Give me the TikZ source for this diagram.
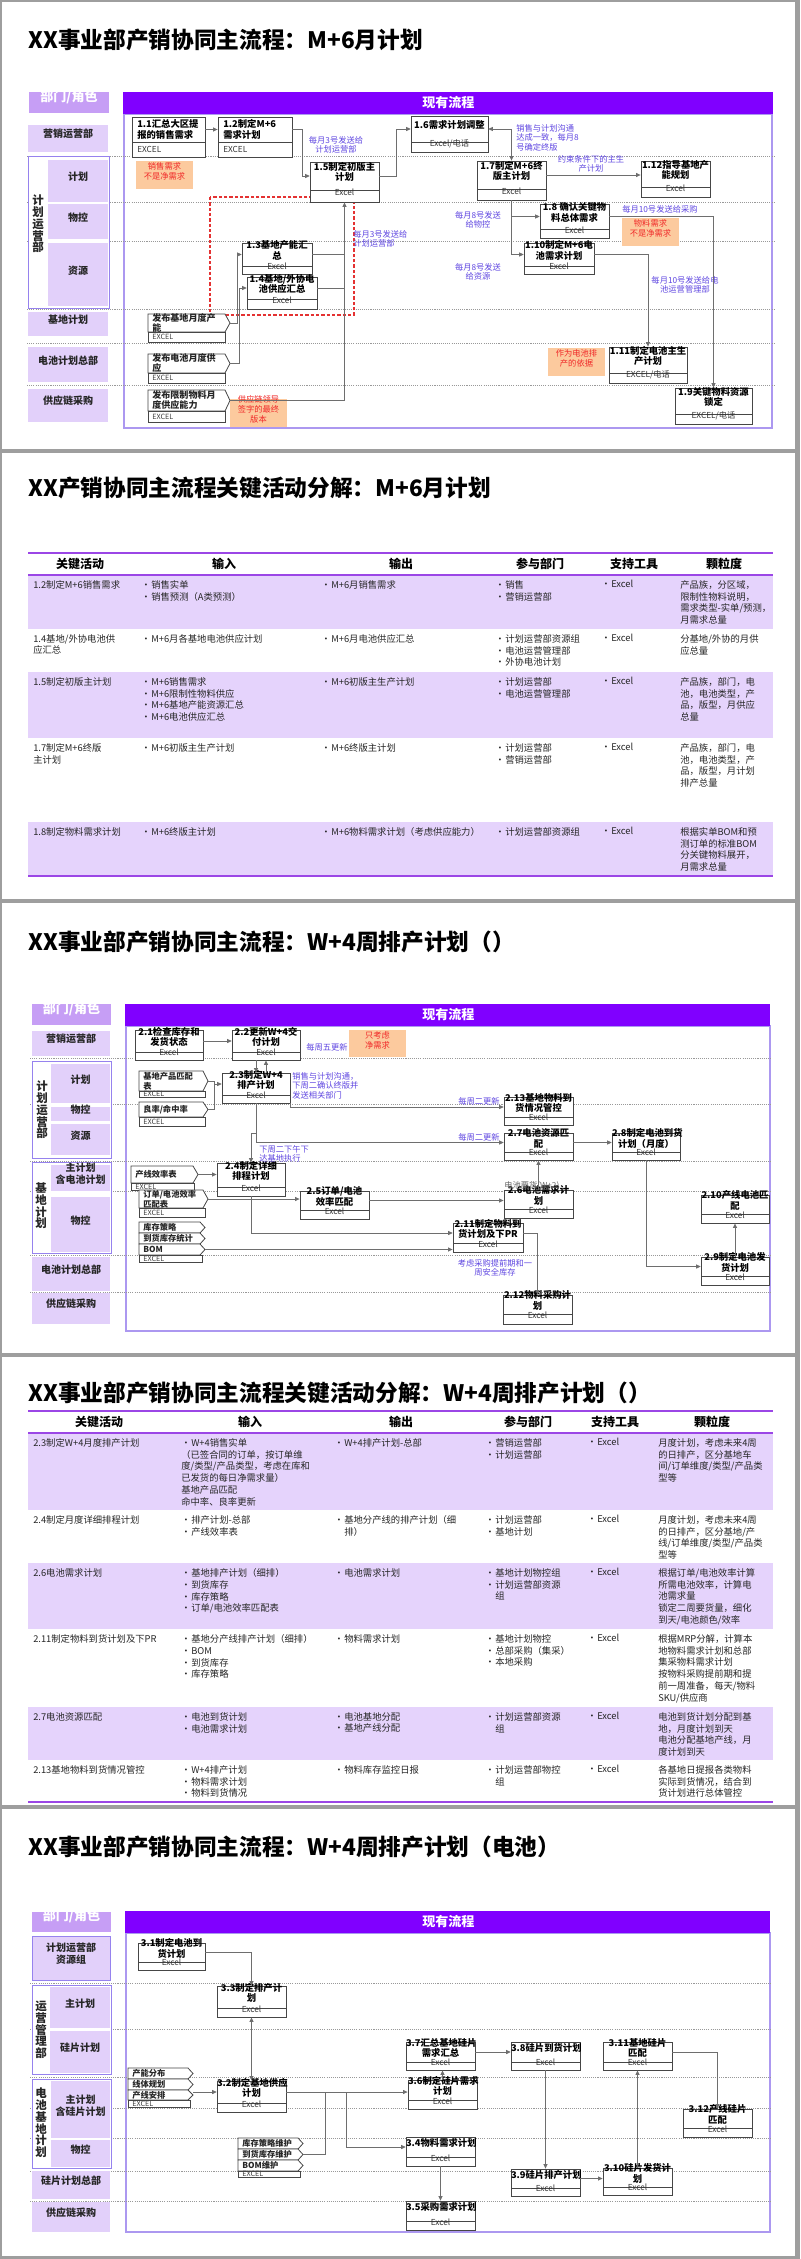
\documentclass[tikz,border=0pt]{standalone}
\usepackage{fontspec}
\setmainfont{Noto Sans CJK SC}
\usetikzlibrary{arrows.meta,fit,calc}

\definecolor{framegray}{RGB}{158,158,158}
\definecolor{purplebar}{RGB}{128,0,255}
\definecolor{hdrlilac}{RGB}{198,158,245}
\definecolor{lanefill}{RGB}{226,208,250}
\definecolor{grpblue}{RGB}{150,130,238}
\definecolor{areaborder}{RGB}{172,152,240}
\definecolor{rowfill}{RGB}{229,211,252}
\definecolor{tableline}{RGB}{155,70,230}
\definecolor{labblue}{RGB}{95,70,225}
\definecolor{noteorange}{RGB}{252,202,158}
\definecolor{notered}{RGB}{240,40,40}
\definecolor{dashred}{RGB}{228,50,50}
\definecolor{boxline}{RGB}{70,70,70}
\definecolor{connline}{RGB}{110,110,110}

\tikzset{
  titlestyle/.style={font=\fontsize{17}{20}\selectfont\bfseries, inner sep=0pt, text=black},
  hdrbox/.style={fill=hdrlilac, inner sep=0pt, text=white, font=\fontsize{9.8}{11}\selectfont\bfseries},
  barbox/.style={fill=purplebar, inner sep=0pt},
  bartext/.style={text=white, font=\fontsize{9.8}{11}\selectfont\bfseries, inner sep=0pt},
  areabox/.style={draw=areaborder, line width=0.8pt, inner sep=0pt},
  sepline/.style={draw=black!40, line width=0.5pt, dash pattern=on 0.8pt off 0.8pt},
  lanebox/.style={fill=lanefill, inner sep=0pt, align=center, text=black!85, font=\fontsize{7.5}{9}\selectfont\bfseries},
  grpbox/.style={draw=grpblue, fill=white, line width=0.7pt, inner sep=0pt},
  vtext/.style={font=\fontsize{8.6}{8.8}\selectfont\bfseries, align=center, inner sep=0pt, text=black!85},
  procbox/.style={draw=boxline, fill=white, line width=0.6pt, inner sep=0pt},
  procline/.style={draw=boxline, line width=0.6pt},
  ptitle/.style={font=\fontsize{7}{7.8}\selectfont\bfseries, align=center, inner sep=0pt, text=black},
  ptool/.style={font=\fontsize{6.2}{7}\selectfont, inner sep=0pt, text=black!80},
  tagline/.style={draw=boxline, fill=white, line width=0.6pt},
  tagtext/.style={font=\fontsize{6.2}{7.5}\selectfont\bfseries, align=left, inner sep=0pt, text=black!85},
  striptext/.style={font=\fontsize{5.4}{6}\selectfont, inner sep=0pt, text=black!75},
  conn/.style={draw=connline, line width=0.55pt, -{Triangle[length=3.4pt,width=3pt]}},
  connb/.style={draw=connline, line width=0.55pt, {Triangle[length=3.4pt,width=3pt]}-{Triangle[length=3.4pt,width=3pt]}},
  conn0/.style={draw=connline, line width=0.55pt},
  bluelab/.style={font=\fontsize{6.2}{7.2}\selectfont, text=labblue, align=center, inner sep=0pt},
  graylab/.style={font=\fontsize{6.2}{7.2}\selectfont, text=black!60, inner sep=0pt},
  note/.style={fill=noteorange, text=notered, font=\fontsize{6.2}{7.4}\selectfont, align=center, inner sep=0pt},
  reddash/.style={draw=dashred, line width=0.8pt, dash pattern=on 2.5pt off 1.5pt},
  thead/.style={font=\fontsize{9}{10}\selectfont\bfseries, inner sep=0pt, text=black},
  tcell/.style={font=\fontsize{7}{8.9}\selectfont, align=left, inner sep=0pt, anchor=north west, text=black!85},
  tline/.style={draw=tableline, line width=1pt},
}

\newcommand\proc[8]{%
  \node[procbox, fit={(#2,#3) (#4,#5)}] (#1) {};
  \draw[procline] (#2,#6) -- (#4,#6);
  \node[ptitle, fit={(#2,#3) (#4,#6)}] (#1-t) {#7};
  \node[ptool, fit={(#2,#6) (#4,#5)}] (#1-x) {#8};}
\newcommand\procL[8]{%
  \node[procbox, fit={(#2,#3) (#4,#5)}] (#1) {};
  \draw[procline] (#2,#6) -- (#4,#6);
  \node[ptitle, align=left, anchor=west] (#1-t) at ({#2+5},{(#3+#6)/2}) {#7};
  \node[ptool, anchor=west] (#1-x) at ({#2+5},{(#6+#5)/2}) {#8};}
\newcommand\tagn[6]{%
  \draw[tagline] (#2,#3) -- ({#4-5},#3) -- (#4,{(#3+#5)/2}) -- ({#4-5},#5) -- (#2,#5) -- cycle;
  \node[tagtext, anchor=west] (#1) at ({#2+4},{(#3+#5)/2}) {#6};
  \coordinate (#1-p) at (#4,{(#3+#5)/2});}
\newcommand\stripn[6]{%
  \node[procbox, fit={(#2,#3) (#4,#5)}] (#1) {};
  \node[striptext, anchor=west] (#1-t) at ({#2+4},{(#3+#5)/2}) {#6};}
\newcommand\lane[6]{\node[lanebox, fit={(#2,#3) (#4,#5)}] (#1) {#6};}
\newcommand\cell[4]{\node[tcell] (#1) at (#2,#3) {#4};}
\newcommand\bu{\makebox[7.5pt][l]{•}}

\begin{document}
\begin{tikzpicture}[x=0.75pt,y=-0.75pt]
\useasboundingbox (0,0) rectangle (800,2259);
\fill[framegray] (0,0) rectangle (800,2259);
\fill[white] (2,2) rectangle (795,449);
\fill[white] (2,453) rectangle (795,899);
\fill[white] (2,903) rectangle (795,1353);
\fill[white] (2,1357) rectangle (795,1805);
\fill[white] (2,1809) rectangle (795,2256);

%================ SLIDE 1 =================
\node[titlestyle, anchor=west] (T1) at (28,40) {XX事业部产销协同主流程：M+6月计划};
\node[areabox, fit={(124,114) (772,428)}] (A1) {};
\foreach \yy in {156,202,241,309,343,385} \draw[sepline] (27,\yy) -- (775,\yy);
\node[hdrbox, fit={(29,92) (109,113)}] (H1) {部门/角色};
\node[barbox, fit={(123,92) (773,114)}] (B1) {};
\node[bartext, anchor=west] (B1t) at (422,103) {现有流程};
\lane{L1a}{28}{125}{108}{152}{营销运营部}
\node[grpbox, fit={(28,156) (109,308)}] (G1) {};
\node[vtext] (G1t) at (38,224) {计\\划\\运\\营\\部};
\lane{L1b}{48}{160}{108}{202}{计划}
\lane{L1c}{48}{204}{108}{239}{物控}
\lane{L1d}{48}{243}{108}{306}{资源}
\lane{L1e}{28}{312}{108}{336}{基地计划}
\lane{L1f}{28}{347}{108}{382}{电池计划总部}
\lane{L1g}{28}{389}{108}{422}{供应链采购}

\draw[reddash] (210,197) rectangle (354,315);

\procL{n11}{132}{117}{205}{157}{142}{1.1汇总大区提\\报的销售需求}{EXCEL}
\procL{n12}{218}{117}{292}{157}{142}{1.2制定M+6\\需求计划}{EXCEL}
\proc{n15}{310}{162}{379}{202}{190}{1.5制定初版主\\计划}{Excel}
\proc{n16}{411}{116}{488}{152}{142}{1.6需求计划调整}{Excel/电话}
\proc{n17}{477}{161}{546}{200}{189}{1.7制定M+6终\\版主计划}{Excel}
\proc{n112}{641}{161}{710}{197}{187}{1.12指导基地产\\能规划}{Excel}
\proc{n18}{540}{204}{609}{238}{229}{1.8 确认关键物\\料总体需求}{Excel}
\proc{n110}{524}{243}{594}{274}{266}{1.10制定M+6电\\池需求计划}{Excel}
\proc{n111}{609}{347}{687}{383}{373}{1.11制定电池主生\\产计划}{EXCEL/电话}
\proc{n19}{675}{388}{752}{424}{414}{1.9关键物料资源\\锁定}{EXCEL/电话}
\proc{n13}{242}{243}{312}{274}{266}{1.3基地产能汇\\总}{Excel}
\proc{n14}{247}{277}{317}{309}{299}{1.4基地/外协电\\池供应汇总}{Excel}

\begin{scope}[tagtext/.append style={font=\fontsize{6.8}{7.5}\selectfont\bfseries}]
\tagn{tg1}{148}{314}{230}{332}{发布基地月度产\\能}
\stripn{tg1x}{148}{332}{225}{342}{EXCEL}
\tagn{tg2}{148}{354}{230}{373}{发布电池月度供\\应}
\stripn{tg2x}{148}{373}{225}{383}{EXCEL}
\tagn{tg3}{148}{390}{230}{411}{发布限制物料月\\度供应能力}
\stripn{tg3x}{148}{411}{225}{422}{EXCEL}
\end{scope}

\node[note, fit={(136,161) (193,189)}] (o1) {销售需求\\不是净需求};
\node[note, fit={(230,399) (287,427)}] (o2) {供应链领导\\签字的最终\\版本};
\node[note, fit={(622,218) (679,246)}] (o3) {物料需求\\不是净需求};
\node[note, fit={(548,348) (605,376)}] (o4) {作为电池排\\产的依据};

\node[bluelab] (b1) at (336,145) {每月3号发送给\\计划运营部};
\node[bluelab, anchor=north west, align=left] (b2) at (516,124) {销售与计划沟通\\达成一致，每月8\\号确定终版};
\node[bluelab] (b3) at (591,164) {约束条件下的主生\\产计划};
\node[bluelab] (b4) at (478,220) {每月8号发送\\给物控};
\node[bluelab] (b5) at (478,272) {每月8号发送\\给资源};
\node[bluelab, anchor=west] (b6) at (622,209) {每月10号发送给采购};
\node[bluelab] (b7) at (685,285) {每月10号发送给电\\池运营管理部};
\node[bluelab, anchor=north west, align=left] (b8) at (353,230) {每月3号发送给\\计划运营部};

\draw[conn] (n11.east |- n11-t) -- (n12.west |- n12-t);
\draw[conn] (n12.east |- n12-t) -- ++(10,0) |- (n15-t.west);
\draw[conn] (n15-t.east) -- ++(17,0) |- (n16-t.west);
\draw[connb] (n16-t.east) -| (n17.north);
\draw[conn] (n17-t.east) -- (n17-t.east -| n112.west);
\draw[conn] (n17.south) |- (n18-t.west);
\draw[conn] (n17.south) |- (n110-t.west);
\draw[conn] (n18-t.east) -| (n19.north);
\draw[conn] (n110-t.east) -| (n111.north);
\draw[conn] (tg3-p) -| (n15.south);
\draw[conn0] (n13-t.east) -- (n13-t.east -| n15.south);
\draw[conn0] (n14-t.east) -- (n14-t.east -| n15.south);
\draw[conn] (tg1-p) -- ++(7,0) |- (n13-t.west);
\draw[conn] (tg2-p) -- ++(9,0) |- (n14-t.west);

%================ SLIDE 2 =================
\node[titlestyle, anchor=west] (T2) at (28,488) {XX产销协同主流程关键活动分解：M+6月计划};
\fill[rowfill] (28,575) rectangle (773,629);
\fill[rowfill] (28,672) rectangle (773,738);
\fill[rowfill] (28,822) rectangle (773,876);
\draw[tline] (28,553) -- (773,553);
\draw[tline] (28,575) -- (773,575);
\draw[tline] (28,876) -- (773,876);
\node[thead] (h2a) at (80,564) {关键活动};
\node[thead] (h2b) at (224,564) {输入};
\node[thead] (h2c) at (401,564) {输出};
\node[thead] (h2d) at (540,564) {参与部门};
\node[thead] (h2e) at (634,564) {支持工具};
\node[thead] (h2f) at (724,564) {颗粒度};

\cell{r21a}{33}{580}{1.2制定M+6销售需求}
\cell{r21b}{141}{580}{\bu 销售实单\\\bu 销售预测（A类预测）}
\cell{r21c}{321}{580}{\bu M+6月销售需求}
\cell{r21d}{495}{580}{\bu 销售\\\bu 营销运营部}
\cell{r21e}{601}{580}{\bu Excel}
\cell{r21f}{680}{580}{产品族，分区域，\\限制性物料说明，\\需求类型-实单/预测，\\月需求总量}

\cell{r22a}{33}{634}{1.4基地/外协电池供\\应汇总}
\cell{r22b}{141}{634}{\bu M+6月各基地电池供应计划}
\cell{r22c}{321}{634}{\bu M+6月电池供应汇总}
\cell{r22d}{495}{634}{\bu 计划运营部资源组\\\bu 电池运营管理部\\\bu 外协电池计划}
\cell{r22e}{601}{634}{\bu Excel}
\cell{r22f}{680}{634}{分基地/外协的月供\\应总量}

\cell{r23a}{33}{677}{1.5制定初版主计划}
\cell{r23b}{141}{677}{\bu M+6销售需求\\\bu M+6限制性物料供应\\\bu M+6基地产能资源汇总\\\bu M+6电池供应汇总}
\cell{r23c}{321}{677}{\bu M+6初版主生产计划}
\cell{r23d}{495}{677}{\bu 计划运营部\\\bu 电池运营管理部}
\cell{r23e}{601}{677}{\bu Excel}
\cell{r23f}{680}{677}{产品族，部门，电\\池，电池类型，产\\品，版型，月供应\\总量}

\cell{r24a}{33}{743}{1.7制定M+6终版\\主计划}
\cell{r24b}{141}{743}{\bu M+6初版主生产计划}
\cell{r24c}{321}{743}{\bu M+6终版主计划}
\cell{r24d}{495}{743}{\bu 计划运营部\\\bu 营销运营部}
\cell{r24e}{601}{743}{\bu Excel}
\cell{r24f}{680}{743}{产品族，部门，电\\池，电池类型，产\\品，版型，月计划\\排产总量}

\cell{r25a}{33}{827}{1.8制定物料需求计划}
\cell{r25b}{141}{827}{\bu M+6终版主计划}
\cell{r25c}{321}{827}{\bu M+6物料需求计划（考虑供应能力）}
\cell{r25d}{495}{827}{\bu 计划运营部资源组}
\cell{r25e}{601}{827}{\bu Excel}
\cell{r25f}{680}{827}{根据实单BOM和预\\测订单的标准BOM\\分关键物料展开，\\月需求总量}

%================ SLIDE 3 =================
\node[titlestyle, anchor=west] (T3) at (28,942) {XX事业部产销协同主流程：W+4周排产计划（）};
\node[areabox, fit={(126,1026) (770,1331)}] (A3) {};
\foreach \yy in {1058,1104,1161,1191,1255,1292} \draw[sepline] (30,\yy) -- (772,\yy);
\node[hdrbox, fit={(32,1004) (111,1025)}] (H3) {部门/角色};
\node[barbox, fit={(125,1004) (770,1026)}] (B3) {};
\node[bartext, anchor=west] (B3t) at (422,1015) {现有流程};
\lane{L3a}{32}{1031}{110}{1056}{营销运营部}
\node[grpbox, fit={(32,1061) (111,1158)}] (G3a) {};
\node[vtext] (G3at) at (42,1110) {计\\划\\运\\营\\部};
\lane{L3b}{51}{1064}{110}{1103}{计划}
\lane{L3c}{51}{1107}{110}{1121}{物控}
\lane{L3d}{51}{1124}{110}{1155}{资源}
\node[grpbox, fit={(32,1162) (111,1253)}] (G3b) {};
\node[vtext] (G3bt) at (41,1206) {基\\地\\计\\划};
\lane{L3e}{51}{1165}{110}{1191}{主计划\\含电池计划}
\lane{L3f}{51}{1197}{110}{1252}{物控}
\lane{L3g}{32}{1257}{110}{1291}{电池计划总部}
\lane{L3h}{32}{1293}{110}{1324}{供应链采购}

\proc{n21}{135}{1030}{203}{1060}{1052}{2.1检查库存和\\发货状态}{Excel}
\proc{n22}{232}{1030}{300}{1060}{1052}{2.2更新W+4交\\付计划}{Excel}
\proc{n23}{222}{1073}{290}{1103}{1095}{2.3制定W+4\\排产计划}{Excel}
\proc{n24}{217}{1163}{285}{1196}{1187}{2.4制定详细\\排程计划}{Excel}
\proc{n25}{300}{1191}{369}{1219}{1210}{2.5订单/电池\\效率匹配}{Excel}
\proc{n213}{504}{1097}{573}{1125}{1117}{2.13基地物料到\\货情况管控}{Excel}
\proc{n27}{504}{1133}{573}{1160}{1152}{2.7电池资源匹\\配}{Excel}
\proc{n28}{612}{1133}{680}{1160}{1152}{2.8制定电池到货\\计划（月度）}{Excel}
\proc{n26}{504}{1190}{573}{1218}{1209}{2.6电池需求计\\划}{Excel}
\proc{n211}{453}{1223}{523}{1252}{1243}{2.11制定物料到\\货计划及下PR}{Excel}
\proc{n212}{503}{1295}{572}{1324}{1314}{2.12物料采购计\\划}{Excel}
\proc{n29}{701}{1257}{769}{1285}{1276}{2.9制定电池发\\货计划}{Excel}
\proc{n210}{701}{1195}{769}{1223}{1214}{2.10产线电池匹\\配}{Excel}

\tagn{tgA}{139}{1071}{208}{1091}{基地产品匹配\\表}
\stripn{tgAx}{139}{1091}{205}{1097}{EXCEL}
\tagn{tgB}{139}{1102}{208}{1117}{良率/命中率}
\stripn{tgBx}{139}{1117}{205}{1126}{EXCEL}
\tagn{tgC}{131}{1166}{198}{1183}{产线效率表}
\stripn{tgCx}{131}{1183}{194}{1190}{EXCEL}
\tagn{tgD}{139}{1190}{208}{1208}{订单/电池效率\\匹配表}
\stripn{tgDx}{139}{1208}{205}{1217}{EXCEL}
\tagn{tgE}{139}{1222}{205}{1233}{库存策略}
\tagn{tgF}{139}{1233}{205}{1244}{到货库存统计}
\tagn{tgG}{139}{1244}{205}{1255}{BOM}
\stripn{tgGx}{139}{1255}{202}{1262}{EXCEL}

\node[bluelab, anchor=west] (c1) at (306,1047) {每周五更新};
\node[note, fit={(349,1030) (406,1057)}] (o5) {只考虑\\净需求};
\node[bluelab, anchor=north west, align=left] (c2) at (292,1072) {销售与计划沟通，\\下周二确认终版并\\发送相关部门};
\node[bluelab, anchor=north west, align=left] (c3) at (259,1145) {下周二下午下\\达基地执行};
\node[bluelab, anchor=east] (c4) at (500,1101) {每周二更新};
\node[bluelab, anchor=east] (c5) at (500,1137) {每周二更新};
\node[graylab, anchor=west] (c6) at (504,1186) {电池要货(W+2)};
\node[bluelab] (c7) at (495,1268) {考虑采购提前期和一\\周安全库存};

\coordinate (j23) at (214,1084);
\draw[conn] (n21-t.east) -- (n22-t.west);
\draw[conn] (n22.south -| n23.north) -- (n23.north);
\draw[conn] (n23.north -| n22.south) -- (n22.south);
\draw[conn0] (tgA-p) -| (j23);
\draw[conn0] (tgB-p) -| (j23);
\draw[conn] (j23) -- (n23-t.west);
\draw[conn] (n23.south east) |- (n213-t.west);
\draw[conn] (n23.south) |- (n27-t.west);
\draw[conn] (n23.south) ++(0,30) -| (n24.north);
\draw[conn] (n27-t.east) -- (n28-t.west);
\draw[conn] (n26.north) -- (n27.south);
\draw[conn] (tgC-p) -- (tgC-p -| n24.west);
\draw[conn] (tgD-p) -- (tgD-p -| n25.west);
\draw[conn] (n25-t.east) -- (n25-t.east -| n26.west);
\draw[conn] (n24.south) |- (n211-t.west);
\draw[conn] (tgG-p) -- (tgG-p -| n211.west);
\draw[conn] (n211-t.east) -| (n212.north);
\draw[conn] (n28.south) |- (n29-t.west);
\draw[conn] (n29.north) -- (n210.south);

%================ SLIDE 4 =================
\node[titlestyle, anchor=west] (T4) at (28,1393) {XX事业部产销协同主流程关键活动分解：W+4周排产计划（）};
\fill[rowfill] (28,1433) rectangle (773,1510);
\fill[rowfill] (28,1563) rectangle (773,1629);
\fill[rowfill] (28,1707) rectangle (773,1760);
\draw[tline] (28,1411) -- (773,1411);
\draw[tline] (28,1433) -- (773,1433);
\draw[tline] (28,1802) -- (773,1802);
\node[thead] (h4a) at (99,1422) {关键活动};
\node[thead] (h4b) at (250,1422) {输入};
\node[thead] (h4c) at (401,1422) {输出};
\node[thead] (h4d) at (528,1422) {参与部门};
\node[thead] (h4e) at (615,1422) {支持工具};
\node[thead] (h4f) at (712,1422) {颗粒度};

\cell{r41a}{33}{1438}{2.3制定W+4月度排产计划}
\cell{r41b}{181}{1438}{\bu W+4销售实单\\（已签合同的订单，按订单维\\度/类型/产品类型，考虑在库和\\已发货的每日净需求量）\\基地产品匹配\\命中率、良率更新}
\cell{r41c}{334}{1438}{\bu W+4排产计划-总部}
\cell{r41d}{485}{1438}{\bu 营销运营部\\\bu 计划运营部}
\cell{r41e}{587}{1438}{\bu Excel}
\cell{r41f}{658}{1438}{月度计划，考虑未来4周\\的日排产，区分基地车\\间/订单维度/类型/产品类\\型等}

\cell{r42a}{33}{1515}{2.4制定月度详细排程计划}
\cell{r42b}{181}{1515}{\bu 排产计划-总部\\\bu 产线效率表}
\cell{r42c}{334}{1515}{\bu 基地分产线的排产计划（细\\\hspace*{7.5pt}排）}
\cell{r42d}{485}{1515}{\bu 计划运营部\\\bu 基地计划}
\cell{r42e}{587}{1515}{\bu Excel}
\cell{r42f}{658}{1515}{月度计划，考虑未来4周\\的日排产，区分基地/产\\线/订单维度/类型/产品类\\型等}

\cell{r43a}{33}{1568}{2.6电池需求计划}
\cell{r43b}{181}{1568}{\bu 基地排产计划（细排）\\\bu 到货库存\\\bu 库存策略\\\bu 订单/电池效率匹配表}
\cell{r43c}{334}{1568}{\bu 电池需求计划}
\cell{r43d}{485}{1568}{\bu 基地计划物控组\\\bu 计划运营部资源\\\hspace*{7.5pt}组}
\cell{r43e}{587}{1568}{\bu Excel}
\cell{r43f}{658}{1568}{根据订单/电池效率计算\\所需电池效率，计算电\\池需求量\\锁定二周要货量，细化\\到天/电池颜色/效率}

\cell{r44a}{33}{1634}{2.11制定物料到货计划及下PR}
\cell{r44b}{181}{1634}{\bu 基地分产线排产计划（细排）\\\bu BOM\\\bu 到货库存\\\bu 库存策略}
\cell{r44c}{334}{1634}{\bu 物料需求计划}
\cell{r44d}{485}{1634}{\bu 基地计划物控\\\bu 总部采购（集采）\\\bu 本地采购}
\cell{r44e}{587}{1634}{\bu Excel}
\cell{r44f}{658}{1634}{根据MRP分解，计算本\\地物料需求计划和总部\\集采物料需求计划\\按物料采购提前期和提\\前一周准备，每天/物料\\SKU/供应商}

\cell{r45a}{33}{1712}{2.7电池资源匹配}
\cell{r45b}{181}{1712}{\bu 电池到货计划\\\bu 电池需求计划}
\cell{r45c}{334}{1712}{\bu 电池基地分配\\\bu 基地产线分配}
\cell{r45d}{485}{1712}{\bu 计划运营部资源\\\hspace*{7.5pt}组}
\cell{r45e}{587}{1712}{\bu Excel}
\cell{r45f}{658}{1712}{电池到货计划分配到基\\地，月度计划到天\\电池分配基地产线，月\\度计划到天}

\cell{r46a}{33}{1765}{2.13基地物料到货情况管控}
\cell{r46b}{181}{1765}{\bu W+4排产计划\\\bu 物料需求计划\\\bu 物料到货情况}
\cell{r46c}{334}{1765}{\bu 物料库存监控日报}
\cell{r46d}{485}{1765}{\bu 计划运营部物控\\\hspace*{7.5pt}组}
\cell{r46e}{587}{1765}{\bu Excel}
\cell{r46f}{658}{1765}{各基地日提报各类物料\\实际到货情况，结合到\\货计划进行总体管控}

%================ SLIDE 5 =================
\node[titlestyle, anchor=west] (T5) at (28,1847) {XX事业部产销协同主流程：W+4周排产计划（电池）};
\node[areabox, fit={(126,1933) (770,2232)}] (A5) {};
\foreach \yy in {1983,2029,2077,2108,2138,2171,2201} \draw[sepline] (30,\yy) -- (772,\yy);
\node[hdrbox, fit={(32,1912) (111,1932)}] (H5) {部门/角色};
\node[barbox, fit={(125,1911) (770,1933)}] (B5) {};
\node[bartext, anchor=west] (B5t) at (422,1922) {现有流程};
\node[lanebox, draw=grpblue, line width=0.7pt, fit={(32,1936) (110,1980)}] (L5a) {计划运营部\\资源组};
\node[grpbox, fit={(32,1985) (111,2074)}] (G5a) {};
\node[vtext] (G5at) at (41,2030) {运\\营\\管\\理\\部};
\lane{L5b}{50}{1987}{110}{2028}{主计划}
\lane{L5c}{50}{2031}{110}{2073}{硅片计划}
\node[grpbox, fit={(32,2079) (111,2168)}] (G5b) {};
\node[vtext] (G5bt) at (41,2123) {电\\池\\基\\地\\计\\划};
\lane{L5d}{51}{2081}{110}{2138}{主计划\\含硅片计划}
\lane{L5e}{51}{2140}{110}{2167}{物控}
\lane{L5f}{32}{2171}{110}{2199}{硅片计划总部}
\lane{L5g}{32}{2202}{110}{2232}{供应链采购}

\proc{n31}{138}{1943}{205}{1970}{1962}{3.1制定电池到\\货计划}{Excel}
\proc{n33}{217}{1986}{286}{2017}{2008}{3.3制定排产计\\划}{Excel}
\proc{n32}{217}{2081}{286}{2112}{2103}{3.2制定基地供应\\计划}{Excel}
\proc{n37}{406}{2042}{475}{2070}{2062}{3.7汇总基地硅片\\需求汇总}{Excel}
\proc{n36}{408}{2080}{477}{2109}{2100}{3.6制定硅片需求\\计划}{Excel}
\proc{n38}{511}{2042}{580}{2070}{2062}{3.8硅片到货计划}{Excel}
\proc{n311}{603}{2042}{672}{2070}{2062}{3.11基地硅片\\匹配}{Excel}
\proc{n312}{683}{2109}{752}{2137}{2128}{3.12产线硅片\\匹配}{Excel}
\proc{n34}{406}{2137}{475}{2166}{2157}{3.4物料需求计划}{Excel}
\proc{n39}{511}{2169}{580}{2196}{2188}{3.9硅片排产计划}{Excel}
\proc{n310}{603}{2168}{672}{2195}{2187}{3.10硅片发货计\\划}{Excel}
\proc{n35}{406}{2201}{475}{2230}{2221}{3.5采购需求计划}{Excel}

\tagn{tgH}{128}{2068}{193}{2079}{产能分布}
\tagn{tgI}{128}{2079}{193}{2090}{线体规划}
\tagn{tgJ}{128}{2090}{193}{2100}{产线安排}
\stripn{tgJx}{128}{2100}{190}{2107}{EXCEL}
\tagn{tgK}{238}{2138}{303}{2149}{库存策略维护}
\tagn{tgL}{238}{2149}{303}{2160}{到货库存维护}
\tagn{tgM}{238}{2160}{303}{2171}{BOM维护}
\stripn{tgMx}{238}{2171}{300}{2177}{EXCEL}

\coordinate (j32a) at ($(n32-t.east)+(39,0)$);
\coordinate (j32b) at ($(n32-t.east)+(60,0)$);
\draw[conn] (n31-t.east) -| (n33.north);
\draw[connb] (n33.south) -- (n32.north);
\draw[conn] (tgJ-p |- n32-t.west) -- (n32-t.west);
\draw[conn] (n32-t.east) -- (n32-t.east -| n36.west);
\draw[conn0] (tgL-p) -| (j32a);
\draw[conn] (j32b) |- (n34-t.west);
\draw[conn] (n36.north) -- (n36.north |- n37.south);
\draw[conn] (n37-t.east) -- (n38-t.west);
\draw[conn] (n38.south) -- (n39.north);
\draw[conn] (n39-t.east) -- (n39-t.east -| n310.west);
\draw[conn] (n310.north) -- (n311.south);
\draw[conn] (n311-t.east) -| (n312.north);
\draw[conn] (n34.south) -- (n35.north);
\end{tikzpicture}
\end{document}
